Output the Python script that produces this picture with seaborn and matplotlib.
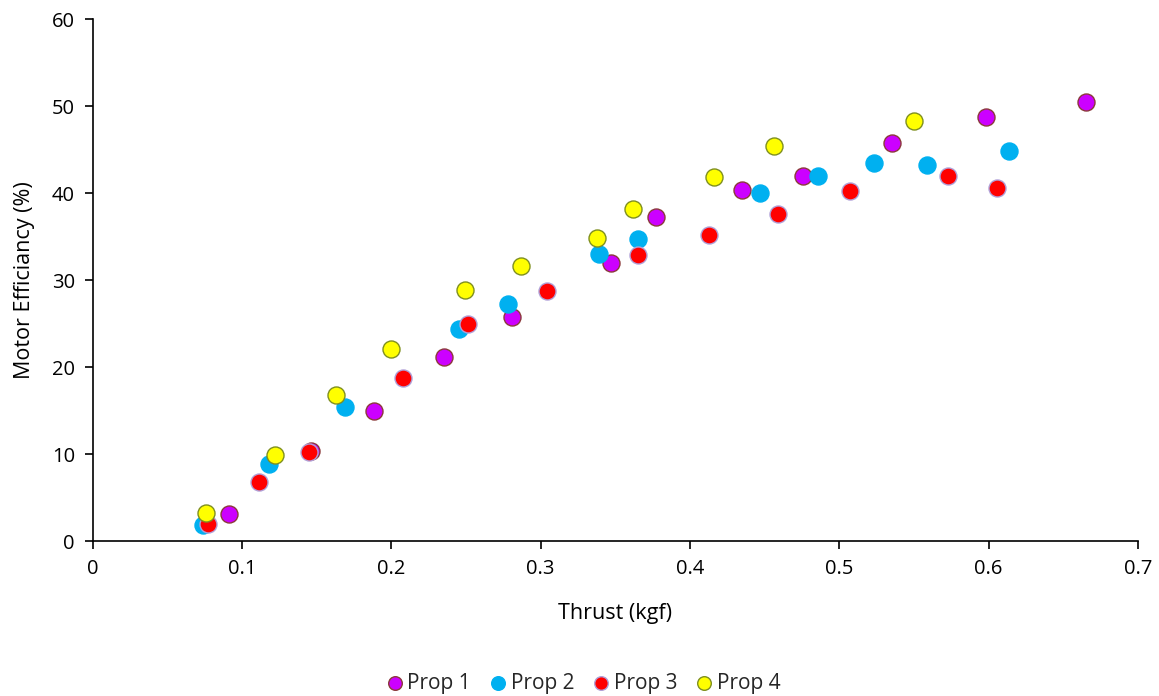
import matplotlib
matplotlib.use("Agg")
import matplotlib.pyplot as plt
import seaborn as sns
import pandas as pd

# ---- data ----
prop1_thrust = [0.091, 0.146, 0.188, 0.235, 0.281, 0.347, 0.377, 0.435, 0.476, 0.535, 0.598, 0.665]
prop1_eff    = [3.1, 10.3, 14.9, 21.1, 25.8, 32.0, 37.2, 40.4, 41.9, 45.7, 48.7, 50.5]

prop2_thrust = [0.074, 0.118, 0.169, 0.245, 0.278, 0.339, 0.365, 0.447, 0.486, 0.523, 0.559, 0.614]
prop2_eff    = [1.8, 8.9, 15.4, 24.4, 27.2, 33.0, 34.7, 40.0, 42.0, 43.5, 43.2, 44.8]

prop3_thrust = [0.077, 0.111, 0.145, 0.208, 0.251, 0.304, 0.365, 0.413, 0.459, 0.507, 0.573, 0.606]
prop3_eff    = [1.9, 6.8, 10.2, 18.7, 25.0, 28.7, 32.9, 35.2, 37.6, 40.2, 42.0, 40.6]

prop4_thrust = [0.076, 0.122, 0.163, 0.200, 0.249, 0.287, 0.338, 0.362, 0.416, 0.456, 0.550]
prop4_eff    = [3.2, 9.9, 16.8, 22.1, 28.9, 31.6, 34.8, 38.2, 41.8, 45.4, 48.3]

series_names = ["Prop 1", "Prop 2", "Prop 3", "Prop 4"]
x_ticks = [0, 0.1, 0.2, 0.3, 0.4, 0.5, 0.6, 0.7]
x_tick_labels = ["0", "0.1", "0.2", "0.3", "0.4", "0.5", "0.6", "0.7"]
y_ticks = [0, 10, 20, 30, 40, 50, 60]

# ---- styling ----
fills = ["#CC00FF", "#00B0F0", "#FF0000", "#FFFF00"]
edges = ["#8B3A3A", "#00B0F0", "#B0A0D8", "#7F8F1F"]

sns.set_theme(style="white")
plt.rcParams["font.family"] = ["Open Sans", "DejaVu Sans"]

fig = plt.figure(figsize=(11.59, 6.96), dpi=100)
ax = fig.add_axes([0.0802, 0.2227, 0.9015, 0.75])

data = [(prop1_thrust, prop1_eff), (prop2_thrust, prop2_eff),
        (prop3_thrust, prop3_eff), (prop4_thrust, prop4_eff)]

for (xs, ys), name, fc, ec in zip(data, series_names, fills, edges):
    df = pd.DataFrame({"Thrust": xs, "Eff": ys})
    sns.scatterplot(data=df, x="Thrust", y="Eff", ax=ax, color=fc,
                    edgecolor=ec, linewidth=1.0, s=150, label=name, zorder=3)

ax.set_xlim(0, 0.7)
ax.set_ylim(0, 60)
ax.set_xticks(x_ticks)
ax.set_xticklabels(x_tick_labels)
ax.set_yticks(y_ticks)
ax.tick_params(axis="both", labelsize=14.5, colors="black", direction="out",
               length=6, width=1.2, left=True, bottom=True, pad=7)
for side in ["top", "right"]:
    ax.spines[side].set_visible(False)
for side in ["left", "bottom"]:
    ax.spines[side].set_color("black")
    ax.spines[side].set_linewidth(1.2)

ax.set_xlabel("Thrust (kgf)", fontsize=15.5, labelpad=17, color="black")
ax.set_ylabel("Motor Efficiancy (%)", fontsize=15.5, labelpad=12, color="black")

leg = ax.legend(loc="lower center", bbox_to_anchor=(0.503, -0.024), bbox_transform=fig.transFigure,
                ncol=4, frameon=False, fontsize=15, handletextpad=0.15,
                handlelength=0.9, columnspacing=0.85, markerscale=0.8)

fig.savefig("out.png", dpi=100)
